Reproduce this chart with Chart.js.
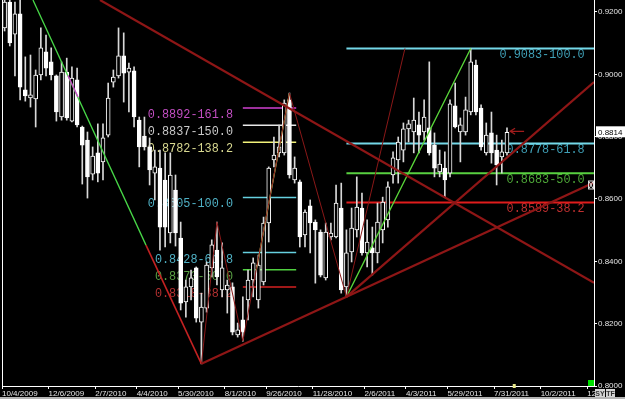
<!DOCTYPE html>
<html><head><meta charset="utf-8">
<script src="https://cdn.jsdelivr.net/npm/chart.js@4/dist/chart.umd.min.js"></script>
<style>html,body{margin:0;padding:0;background:#000;overflow:hidden}</style>
</head><body>
<canvas id="c" width="625" height="399"></canvas>
<script>
// ---- data (weekly EUR/GBP candles, week index 0 = 10/4/2009) ----
const opens = [
0.9149,0.9232,0.9129,0.9194,0.8950,0.8924,0.8921,0.8998,0.9072,0.9040,
0.8995,0.8863,0.9007,0.8850,0.8982,0.8831,0.8789,0.8680,0.8748,0.8719,
0.8805,0.8975,0.8995,0.9059,0.9007,0.9011,0.8853,0.8802,0.8767,0.8683,
0.8699,0.8661,0.8491,0.8629,0.8475,0.8270,0.8318,0.8379,0.8205,0.8250,
0.8379,0.8436,0.8308,0.8308,0.8318,0.8164,0.8212,0.8276,0.8340,0.8276,
0.8334,0.8523,0.8725,0.8748,0.8748,0.8918,0.8661,0.8655,0.8485,0.8578,
0.8526,0.8494,0.8347,0.8478,0.8478,0.8571,0.8318,0.8430,0.8501,0.8571,
0.8427,0.8443,0.8427,0.8501,0.8533,0.8677,0.8725,0.8757,0.8825,0.8815,
0.8838,0.8815,0.8828,0.8773,0.8687,0.8699,0.8683,0.8899,0.8815,0.8815,
0.8879,0.9030,0.8892,0.8748,0.8812,0.8757,0.8735,0.8748];
const highs = [
0.9264,0.9251,0.9232,0.9239,0.9056,0.9062,0.9014,0.9149,0.9126,0.9085,
0.8998,0.9040,0.9052,0.9024,0.9020,0.8834,0.8815,0.8767,0.8841,0.8841,
0.8972,0.9014,0.9149,0.9133,0.9036,0.9024,0.8863,0.8863,0.8796,0.8757,
0.8757,0.8748,0.8748,0.8677,0.8526,0.8340,0.8372,0.8382,0.8298,0.8398,
0.8469,0.8526,0.8459,0.8340,0.8331,0.8202,0.8286,0.8372,0.8411,0.8420,
0.8542,0.8703,0.8799,0.8837,0.8918,0.8940,0.8735,0.8661,0.8565,0.8597,
0.8533,0.8501,0.8523,0.8523,0.8645,0.8651,0.8501,0.8571,0.8671,0.8619,
0.8533,0.8510,0.8587,0.8606,0.8655,0.8751,0.8799,0.8844,0.8853,0.8924,
0.8879,0.8918,0.9040,0.8812,0.8757,0.8751,0.8918,0.8972,0.8860,0.8927,
0.9083,0.9046,0.8902,0.8844,0.8879,0.8805,0.8789,0.8828];
const lows = [
0.9139,0.9091,0.8995,0.8918,0.8914,0.8895,0.8831,0.8982,0.8995,0.8982,
0.8850,0.8853,0.8853,0.8847,0.8831,0.8648,0.8603,0.8661,0.8655,0.8661,
0.8799,0.8959,0.8988,0.8911,0.8879,0.8831,0.8703,0.8757,0.8645,0.8597,
0.8436,0.8446,0.8459,0.8449,0.8244,0.8221,0.8276,0.8205,0.8071,0.8237,
0.8350,0.8324,0.8286,0.8234,0.8164,0.8157,0.8144,0.8212,0.8286,0.8250,
0.8324,0.8462,0.8703,0.8735,0.8741,0.8667,0.8651,0.8446,0.8446,0.8427,
0.8330,0.8350,0.8340,0.8469,0.8475,0.8298,0.8286,0.8398,0.8478,0.8420,
0.8382,0.8356,0.8395,0.8459,0.8510,0.8651,0.8651,0.8719,0.8783,0.8748,
0.8748,0.8789,0.8741,0.8671,0.8671,0.8606,0.8671,0.8828,0.8719,0.8805,
0.8870,0.8870,0.8757,0.8741,0.8715,0.8645,0.8683,0.8741];
const closes = [
0.9232,0.9101,0.9194,0.8959,0.8931,0.8934,0.8998,0.9085,0.9020,0.8998,
0.8879,0.9007,0.8860,0.8988,0.8838,0.8773,0.8671,0.8738,0.8683,0.8796,
0.8924,0.8991,0.9059,0.9004,0.9020,0.8863,0.8767,0.8767,0.8693,0.8703,
0.8510,0.8510,0.8677,0.8491,0.8266,0.8318,0.8347,0.8218,0.8253,0.8388,
0.8453,0.8350,0.8379,0.8324,0.8173,0.8180,0.8173,0.8340,0.8395,0.8388,
0.8523,0.8699,0.8741,0.8767,0.8908,0.8677,0.8699,0.8478,0.8558,0.8523,
0.8501,0.8356,0.8494,0.8491,0.8587,0.8308,0.8427,0.8507,0.8574,0.8427,
0.8462,0.8427,0.8526,0.8590,0.8639,0.8732,0.8783,0.8825,0.8841,0.8853,
0.8805,0.8863,0.8748,0.8699,0.8712,0.8661,0.8905,0.8831,0.8838,0.8886,
0.9040,0.8879,0.8767,0.8805,0.8748,0.8709,0.8751,0.8814];

const tickWeeks  = [0, 9, 18, 26, 34, 43, 51, 60, 70, 78, 86, 95, 104, 113];
const tickLabels = ['10/4/2009','12/6/2009','2/7/2010','4/4/2010','5/30/2010','8/1/2010','9/26/2010',
                    '11/28/2010','2/6/2011','4/3/2011','5/29/2011','7/31/2011','10/2/2011','12/4/2011'];
const priceTicks = [0.80, 0.82, 0.84, 0.86, 0.88, 0.90, 0.92];

// Fibonacci levels
const leftLevels = [0.8892, 0.8837, 0.8782, 0.8605, 0.8428, 0.8373, 0.8318];
const leftPcts   = [161.8, 150.0, 138.2, 100.0, 61.8, 50.0, 38.2];
const leftSpan   = [46.5, 56.8];
const rightLevels = [0.9083, 0.8778, 0.8683, 0.8589];
const rightPcts   = [100.0, 61.8, 50.0, 38.2];
const rightSpan   = [66.5, 114.3];

// trend lines (week, price)
const resistanceLine = [{x:18.92,y:0.92385},{x:114.3,y:0.8331}];
const supportLine    = [{x:38.5,y:0.8071},{x:114.3,y:0.8653}];
const steepSupport   = [{x:66.5,y:0.8286},{x:114.3,y:0.8975}];
const downTrendGreen = [{x:5.98,y:0.92385},{x:27.8,y:0.8452}];
const downTrendRed   = [{x:27.8,y:0.8452},{x:38.5,y:0.8071}];
const downTrendMag   = [{x:12.74,y:0.8996},{x:14.67,y:0.8927}];
const zigzag         = [{x:38.5,y:0.8071},{x:41.5,y:0.8526},{x:46.5,y:0.8144},{x:55.5,y:0.8940},{x:66.5,y:0.8286},{x:77.8,y:0.9083}];
const upLegGreen     = [{x:66.5,y:0.8286},{x:90.5,y:0.9083}];
const rallyGreen     = [{x:49.1,y:0.8372},{x:55.5,y:0.8940}];

// ---- styles ----
const leftLineColors  = ['#d040d0','#e8e8e8','#f2f27a','#66d0e0','#66d0e0','#50d040','#d42020'];
const leftTextColors  = ['#c24ec2','#c8c8c8','#d8d890','#4fb0c4','#4fb0c4','#5aa044','#b23030'];
const rightLineColors = ['#74d8e8','#74d8e8','#58d040','#e01c1c'];
const rightTextColors = ['#3f9fb6','#3f9fb6','#4ea838','#c03030'];

Chart.defaults.font.family = '"Liberation Sans", Arial, sans-serif';

const candleX = i => i + 0.5;
const wickData = highs.map((h, i) => ({x: candleX(i), y: [lows[i], h]}));
const bodyData = opens.map((o, i) => ({x: candleX(i), y: [o, closes[i]]}));
const bodyFill = opens.map((o, i) => closes[i] < o ? '#ffffff' : '#000000');

function lineDs(data, color, width, order) {
  return {type:'line', data, borderColor:color, borderWidth:width, pointRadius:0, fill:false,
          tension:0, clip:0, order};
}

const datasets = [];
leftLevels.forEach((lv, k) => datasets.push(lineDs([{x:leftSpan[0],y:lv},{x:leftSpan[1],y:lv}], leftLineColors[k], 1.5, 10)));
rightLevels.forEach((lv, k) => datasets.push(lineDs([{x:rightSpan[0],y:lv},{x:rightSpan[1],y:lv}], rightLineColors[k], 2, 10)));
datasets.push({type:'bar', data:wickData, backgroundColor:'#d8d8d8', barThickness:1, grouped:false, clip:0, order:6});
datasets.push({type:'bar', data:bodyData, backgroundColor:bodyFill, borderColor:'#ffffff', borderWidth:1,
               borderSkipped:false, barThickness:4, grouped:false, clip:0, order:5});
datasets.push(lineDs(resistanceLine, '#8e1616', 2.2, 1));
datasets.push(lineDs(supportLine, '#8e1616', 2.2, 1));
datasets.push(lineDs(steepSupport, '#8e1616', 2.2, 1));
datasets.push(lineDs(zigzag, '#8a1818', 1, 1));
datasets.push(lineDs(downTrendGreen, '#48d848', 1.3, 1));
datasets.push(lineDs(downTrendRed, '#c42222', 1.6, 1));
datasets.push(lineDs(downTrendMag, '#d040d0', 1.3, 0));
datasets.push(lineDs(upLegGreen, '#5ad83a', 1.3, 1));
datasets.push(lineDs(rallyGreen, '#b8e070', 1.2, 1));

const fibLabels = {
  id:'fibLabels',
  beforeDatasetsDraw(chart) {
    const {ctx, scales:{x, y}} = chart;
    ctx.save();
    ctx.font = '13px "Liberation Mono", "DejaVu Sans Mono", monospace';
    ctx.textAlign = 'right'; ctx.textBaseline = 'middle';
    const draw = (lv, pct, col, endWeek) => {
      const t = lv.toFixed(4) + '-' + pct.toFixed(1);
      ctx.fillStyle = col;
      ctx.fillText(t, x.getPixelForValue(endWeek), y.getPixelForValue(lv) + 6.5, t.length * 7.1);
    };
    leftLevels.forEach((lv, k) => draw(lv, leftPcts[k], leftTextColors[k], 44.6));
    rightLevels.forEach((lv, k) => draw(lv, rightPcts[k], rightTextColors[k], 112.5));
    ctx.restore();
  }
};

const extras = {
  id:'extras',
  afterDraw(chart) {
    const {ctx, chartArea:a, scales:{x, y}} = chart;
    ctx.save();
    // left frame line
    ctx.strokeStyle = '#ffffff'; ctx.lineWidth = 1;
    ctx.beginPath(); ctx.moveTo(a.left + 0.5, a.top); ctx.lineTo(a.left + 0.5, a.bottom); ctx.stroke();
    // current price arrow
    const last = closes[closes.length - 1];
    const py = y.getPixelForValue(last);
    const tip = x.getPixelForValue(closes.length + 0.1);
    ctx.strokeStyle = '#a01c1c'; ctx.lineWidth = 1.2;
    ctx.beginPath(); ctx.moveTo(tip + 14, py - 1); ctx.lineTo(tip, py - 1);
    ctx.moveTo(tip + 5, py - 4); ctx.lineTo(tip, py - 1); ctx.lineTo(tip + 5, py + 2); ctx.stroke();
    // price box
    ctx.fillStyle = '#ffffff';
    ctx.fillRect(a.right + 2, py - 6, chart.width - a.right - 2, 11);
    ctx.fillStyle = '#000000'; ctx.font = '8px "Liberation Sans", Arial';
    ctx.textAlign = 'left'; ctx.textBaseline = 'middle';
    ctx.fillText(last.toFixed(4), a.right + 4, py);
    // line-end marker
    const my = y.getPixelForValue(supportLine[1].y) + 3;
    ctx.strokeStyle = '#dddddd'; ctx.lineWidth = 1;
    ctx.strokeRect(a.right - 5.5, my - 4.5, 5, 8);
    ctx.beginPath(); ctx.moveTo(a.right - 5, my - 4); ctx.lineTo(a.right - 1, my + 3);
    ctx.moveTo(a.right - 1, my - 4); ctx.lineTo(a.right - 5, my + 3); ctx.stroke();
    // green status square
    ctx.fillStyle = '#00e000'; ctx.fillRect(a.right - 6, a.bottom - 6, 6, 6);
    // time marker
    ctx.fillStyle = '#e8e88a'; ctx.fillRect(x.getPixelForValue(98.9) - 1.5, a.bottom - 2, 3, 4);
    // SY / TF buttons
    ctx.fillStyle = '#000'; ctx.fillRect(a.right + 1, a.bottom + 2, chart.width - a.right, 11);
    ctx.fillStyle = '#d4d4d4';
    ctx.fillRect(a.right + 1, a.bottom + 3, 10, 9);
    ctx.fillRect(a.right + 12, a.bottom + 3, 9, 9);
    ctx.fillStyle = '#333'; ctx.font = 'bold 7px "Liberation Sans", Arial'; ctx.textAlign = 'center';
    ctx.fillText('SY', a.right + 6, a.bottom + 8);
    ctx.fillText('TF', a.right + 16.5, a.bottom + 8);
    // window bottom edge
    ctx.fillStyle = '#b4b4b4'; ctx.fillRect(0, chart.height - 2, chart.width, 2);
    ctx.restore();
  }
};

new Chart(document.getElementById('c'), {
  type:'bar',
  data:{datasets},
  plugins:[fibLabels, extras],
  options:{
    responsive:false, animation:false, events:[],
    layout:{padding:{left:2, top:0, right:0, bottom:0}},
    plugins:{legend:{display:false}, tooltip:{enabled:false}},
    scales:{
      x:{type:'linear', position:'bottom', min:0, max:114.3, offset:false,
         afterBuildTicks: s => { s.ticks = tickWeeks.map(v => ({value:v})); },
         afterFit: s => { s.height = 13; s.paddingLeft = 0; s.paddingRight = 0; },
         ticks:{callback:(v, i) => tickLabels[i], align:'start', maxRotation:0, minRotation:0,
                autoSkip:false, color:'#e4e4e4', font:{size:8}, padding:0},
         grid:{offset:false, drawOnChartArea:false, drawTicks:true, tickLength:3, color:'#ffffff'},
         border:{display:true, color:'#ffffff', width:1}},
      y:{type:'linear', position:'right', min:0.80, max:0.92385, beginAtZero:false,
         afterBuildTicks: s => { s.ticks = priceTicks.map(v => ({value:v})); },
         afterFit: s => { s.width = 31; s.paddingTop = 0; s.paddingBottom = 0; },
         ticks:{callback:v => v.toFixed(4), color:'#e4e4e4', font:{size:8}, padding:1},
         grid:{drawOnChartArea:false, drawTicks:true, tickLength:3, color:'#ffffff'},
         border:{display:true, color:'#ffffff', width:1}}
    }
  }
});
</script>
</body></html>
